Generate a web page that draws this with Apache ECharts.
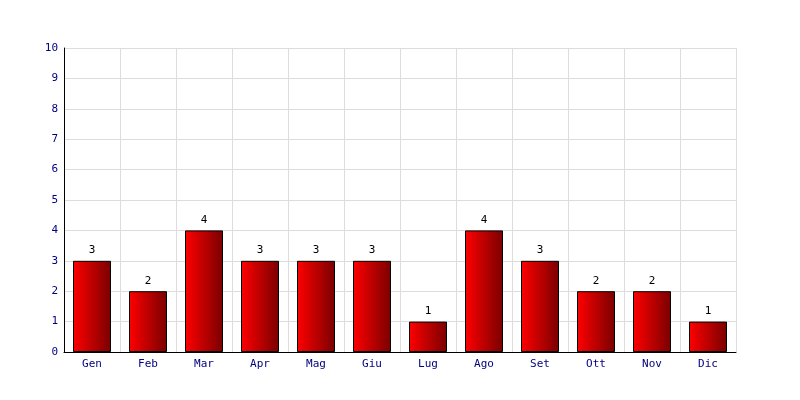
<!DOCTYPE html>
<html><head><meta charset="utf-8">
<script src="https://cdn.jsdelivr.net/npm/echarts@6/dist/echarts.min.js"></script>
<style>html,body{margin:0;padding:0;background:#fff}#c{width:800px;height:400px}</style>
</head><body><div id="c"></div>
<script>
const categories = ['Gen','Feb','Mar','Apr','Mag','Giu','Lug','Ago','Set','Ott','Nov','Dic'];
const values = [3,2,4,3,3,3,1,4,3,2,2,1];
const yTicks = {min:0, max:10, interval:1};
const font = 'DejaVu Sans Mono';
const chart = echarts.init(document.getElementById('c'), null, {renderer:'canvas'});
chart.setOption({
  animation:false,
  backgroundColor:'#fff',
  grid:{left:64, right:64, top:48, bottom:48, containLabel:false},
  xAxis:{
    type:'category', data:categories, boundaryGap:true,
    axisLine:{show:true, lineStyle:{color:'#000', width:1}},
    axisTick:{show:false},
    axisLabel:{color:'#000080', fontFamily:font, fontSize:11, margin:7},
    splitLine:{show:true, lineStyle:{color:'#dcdcdc', width:1}}
  },
  yAxis:{
    type:'value', min:yTicks.min, max:yTicks.max, interval:yTicks.interval,
    axisLine:{show:true, lineStyle:{color:'#000', width:1}},
    axisTick:{show:false},
    axisLabel:{color:'#000080', fontFamily:font, fontSize:11, margin:6},
    splitLine:{show:true, lineStyle:{color:'#dcdcdc', width:1}}
  },
  series:[{
    type:'bar', data:values, barWidth:38,
    itemStyle:{
      color:new echarts.graphic.LinearGradient(0,0,1,0,[{offset:0,color:'#ff0000'},{offset:1,color:'#7a0000'}]),
      borderColor:'#000', borderWidth:1
    },
    label:{show:true, position:'top', color:'#000', fontFamily:font, fontSize:11, distance:5}
  }]
});
</script></body></html>
